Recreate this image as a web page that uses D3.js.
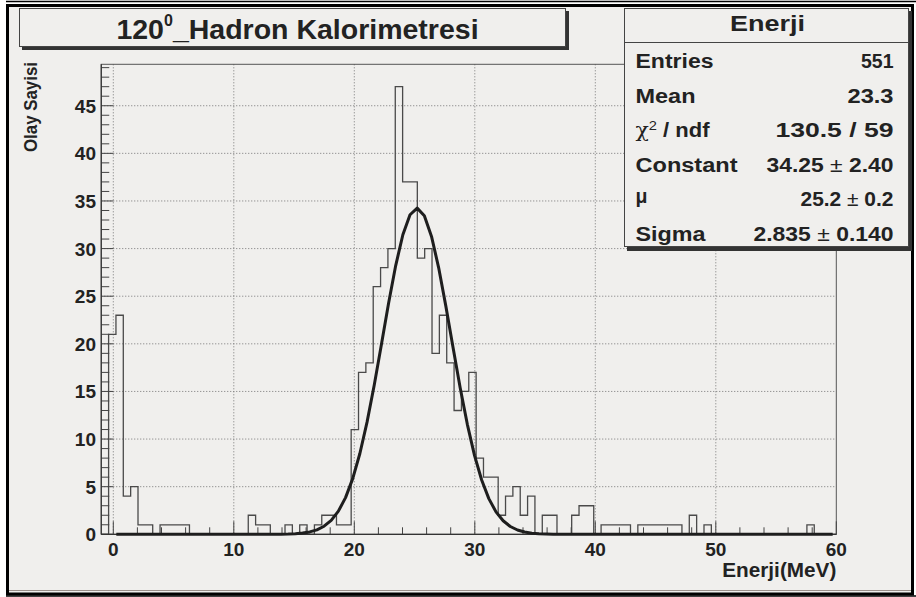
<!DOCTYPE html>
<html><head><meta charset="utf-8">
<script src="https://cdn.jsdelivr.net/npm/d3@7"></script>
<style>
html,body{margin:0;padding:0;background:#fff;}
svg{display:block;}
text{font-family:"Liberation Sans",Arial,Helvetica,sans-serif;font-weight:bold;fill:#222;}
</style></head>
<body><svg id="c" width="916" height="597"></svg>
<script>
// ---- data ----
const histRange = [-1, 60];          // histogram axis range (MeV)
const nBins = 100;
const counts = [
 0,21,23,4,5,1,1,0,1,1,
 1,1,0,0,0,0,0,0,0,0,
 2,1,1,0,0,1,0,1,0,1,
 2,2,1,1,11,17,18,26,28,30,
 47,37,37,29,30,19,23,18,13,15,
 17,8,6,6,2,4,5,2,4,0,
 2,2,0,0,2,3,3,0,1,1,
 1,1,0,1,1,1,1,1,1,0,
 2,0,1,0,0,0,0,0,0,0,
 0,0,0,0,0,0,1,0,0,0
];
const xTicks = [0,10,20,30,40,50,60];
const yTicks = [0,5,10,15,20,25,30,35,40,45];
const fitParams = {constant:34.25, mu:25.2, sigma:2.835};
const fitRange = [0.25, 59.7];
const statLabels = ["Entries","Mean","χ2 / ndf","Constant","μ","Sigma"];
const statValues = ["551","23.3","130.5 / 59","34.25 ± 2.40","25.2 ± 0.2","2.835 ± 0.140"];
const titleText = ["120","0","_Hadron Kalorimetresi"];
const xTitle = "Enerji(MeV)";
const yTitle = "Olay Sayisi";
const statTitle = "Enerji";

// ---- layout ----
const svg = d3.select("#c");
const bg = "#f0efed";
const F = {l:101.25, r:836.3, t:64.3, b:534.3};
const binW = (histRange[1]-histRange[0])/nBins;
const ymax = d3.max(counts)*1.05;
const x = d3.scaleLinear().domain(histRange).range([F.l,F.r]);
const y = d3.scaleLinear().domain([0,ymax]).range([F.b,F.t]);

// canvas
svg.append("rect").attr("x",0).attr("y",0).attr("width",916).attr("height",597).attr("fill","#fff");
svg.append("rect").attr("x",7).attr("y",5).attr("width",906).attr("height",589).attr("fill",bg);
svg.append("line").attr("x1",9).attr("x2",912).attr("y1",590.5).attr("y2",590.5).attr("stroke","#9a8f8a").attr("stroke-width",1);
svg.append("rect").attr("x",7.5).attr("y",5.5).attr("width",905).attr("height",588.5).attr("fill","none").attr("stroke","#000").attr("stroke-width",3);
svg.append("line").attr("x1",6).attr("x2",916).attr("y1",1.5).attr("y2",1.5).attr("stroke","#000").attr("stroke-width",1.5);
svg.append("line").attr("x1",6).attr("x2",916).attr("y1",596).attr("y2",596).attr("stroke","#000").attr("stroke-width",1.5);

// grid
const g = svg.append("g");
g.selectAll(".gx").data(xTicks.filter(d=>d<60)).enter().append("line")
  .attr("x1",d=>x(d)).attr("x2",d=>x(d)).attr("y1",F.t).attr("y2",F.b)
  .attr("stroke","#777").attr("stroke-width",1).attr("stroke-dasharray","1,2");
g.selectAll(".gy").data(yTicks.filter(d=>d>0)).enter().append("line")
  .attr("x1",F.l).attr("x2",F.r).attr("y1",d=>y(d)).attr("y2",d=>y(d))
  .attr("stroke","#777").attr("stroke-width",1).attr("stroke-dasharray","1,2");

// frame
g.append("rect").attr("x",F.l).attr("y",F.t).attr("width",F.r-F.l).attr("height",F.b-F.t)
  .attr("fill","none").attr("stroke","#555").attr("stroke-width",1);

// histogram outline
const pts = [];
pts.push([x(histRange[0]), y(0)]);
counts.forEach((c,i)=>{
  const x0 = histRange[0]+i*binW, x1 = x0+binW;
  pts.push([x(x0), y(c)]); pts.push([x(x1), y(c)]);
});
pts.push([x(histRange[1]), y(0)]);
g.append("path").attr("d", d3.line()(pts)).attr("fill","none").attr("stroke","#4a4a4a").attr("stroke-width",1.3);

// axes
const xMinor = d3.range(0,61,2).filter(d=>d%10!==0);
g.selectAll(".xt").data(xTicks).enter().append("line")
  .attr("x1",d=>x(d)).attr("x2",d=>x(d)).attr("y1",F.b).attr("y2",F.b-13).attr("stroke","#444");
g.selectAll(".xm").data(xMinor).enter().append("line")
  .attr("x1",d=>x(d)).attr("x2",d=>x(d)).attr("y1",F.b).attr("y2",F.b-7).attr("stroke","#444");
const yMinor = d3.range(0,50,1).filter(d=>d%5!==0);
g.selectAll(".yt").data(yTicks).enter().append("line")
  .attr("x1",F.l).attr("x2",F.l+12).attr("y1",d=>y(d)).attr("y2",d=>y(d)).attr("stroke","#444");
g.selectAll(".ym").data(yMinor).enter().append("line")
  .attr("x1",F.l).attr("x2",F.l+8).attr("y1",d=>y(d)).attr("y2",d=>y(d)).attr("stroke","#444");
g.append("line").attr("x1",F.l).attr("x2",F.l).attr("y1",F.t).attr("y2",F.b).attr("stroke","#333").attr("stroke-width",1.2);
g.append("line").attr("x1",F.l).attr("x2",F.r).attr("y1",F.b).attr("y2",F.b).attr("stroke","#333").attr("stroke-width",1.2);

// fit curve
const npx = 100;
const fx = d3.range(npx+1).map(i=>fitRange[0]+(fitRange[1]-fitRange[0])*i/npx);
const gauss = v => fitParams.constant*Math.exp(-0.5*Math.pow((v-fitParams.mu)/fitParams.sigma,2));
g.append("path").attr("d", d3.line().x(d=>x(d)).y(d=>y(gauss(d)))(fx))
  .attr("fill","none").attr("stroke","#1e1e1e").attr("stroke-width",3).attr("stroke-linejoin","round");

// tick labels
svg.selectAll(".xl").data(xTicks).enter().append("text")
  .attr("x",d=>x(d)).attr("y",556).attr("text-anchor","middle").attr("font-size",19).text(d=>d);
svg.selectAll(".yl").data(yTicks).enter().append("text")
  .attr("x",96).attr("y",d=>y(d)+7).attr("text-anchor","end").attr("font-size",19).text(d=>d);

// axis titles
svg.append("text").attr("x",F.r).attr("y",577).attr("text-anchor","end").attr("font-size",19.5)
  .attr("textLength",114).attr("lengthAdjust","spacingAndGlyphs").text(xTitle);
svg.append("text").attr("transform","translate(37,62) rotate(-90)").attr("text-anchor","end").attr("font-size",18)
  .attr("textLength",90).attr("lengthAdjust","spacingAndGlyphs").text(yTitle);

// title box
svg.append("rect").attr("x",22).attr("y",11).attr("width",547).attr("height",39).attr("fill","#333");
svg.append("rect").attr("x",19.5).attr("y",8.5).attr("width",546).attr("height",38).attr("fill",bg).attr("stroke","#444").attr("stroke-width",1);
const tt = svg.append("text").attr("x",297.5).attr("y",39).attr("text-anchor","middle").attr("font-size",28.5);
tt.append("tspan").text(titleText[0]);
tt.append("tspan").attr("dy",-13).attr("font-size",16).text(titleText[1]);
tt.append("tspan").attr("dy",13).text(titleText[2]);

// stats box
svg.append("rect").attr("x",627).attr("y",11).attr("width",285).attr("height",240).attr("fill","#333");
svg.append("rect").attr("x",624.5).attr("y",8.5).attr("width",284).attr("height",238).attr("fill",bg).attr("stroke","#444").attr("stroke-width",1);
svg.append("line").attr("x1",624.5).attr("x2",908.5).attr("y1",42.5).attr("y2",42.5).attr("stroke","#444");
svg.append("text").attr("x",767.5).attr("y",31).attr("text-anchor","middle").attr("font-size",22)
  .attr("textLength",75).attr("lengthAdjust","spacingAndGlyphs").text(statTitle);
const rowY = [68,102.5,137,171.5,206,240.5];
const labelW = [78,60,74,102,null,70];
const valueW = [null,46,118,127,93,140];
statLabels.forEach((lab,i)=>{
  const t = svg.append("text").attr("x",635.5).attr("y",rowY[i]).attr("font-size",19.5);
  if (lab.startsWith("χ")) {
    t.append("tspan").attr("font-weight","normal").attr("font-family","DejaVu Serif, serif").text("χ");
    t.append("tspan").attr("dy",-7).attr("font-size",13).attr("font-weight","normal").text("2");
    t.append("tspan").attr("dy",7).text(" / ndf");
  } else if (lab==="μ") {
    t.attr("font-weight","normal").attr("font-family","DejaVu Serif, serif").attr("y",rowY[i]-3).text(lab);
  } else t.text(lab);
  if (labelW[i]) t.attr("textLength",labelW[i]).attr("lengthAdjust","spacingAndGlyphs");
  const v = statValues[i];
  const tv = svg.append("text").attr("x",893.5).attr("y",rowY[i]).attr("text-anchor","end").attr("font-size",19.5);
  if (valueW[i]) tv.attr("textLength",valueW[i]).attr("lengthAdjust","spacingAndGlyphs");
  if (v.includes("±")) {
    const parts = v.split(" ± ");
    tv.append("tspan").text(parts[0]);
    tv.append("tspan").attr("font-weight","normal").text(" ± ");
    tv.append("tspan").text(parts[1]);
  } else tv.text(v);
});
</script></body></html>
